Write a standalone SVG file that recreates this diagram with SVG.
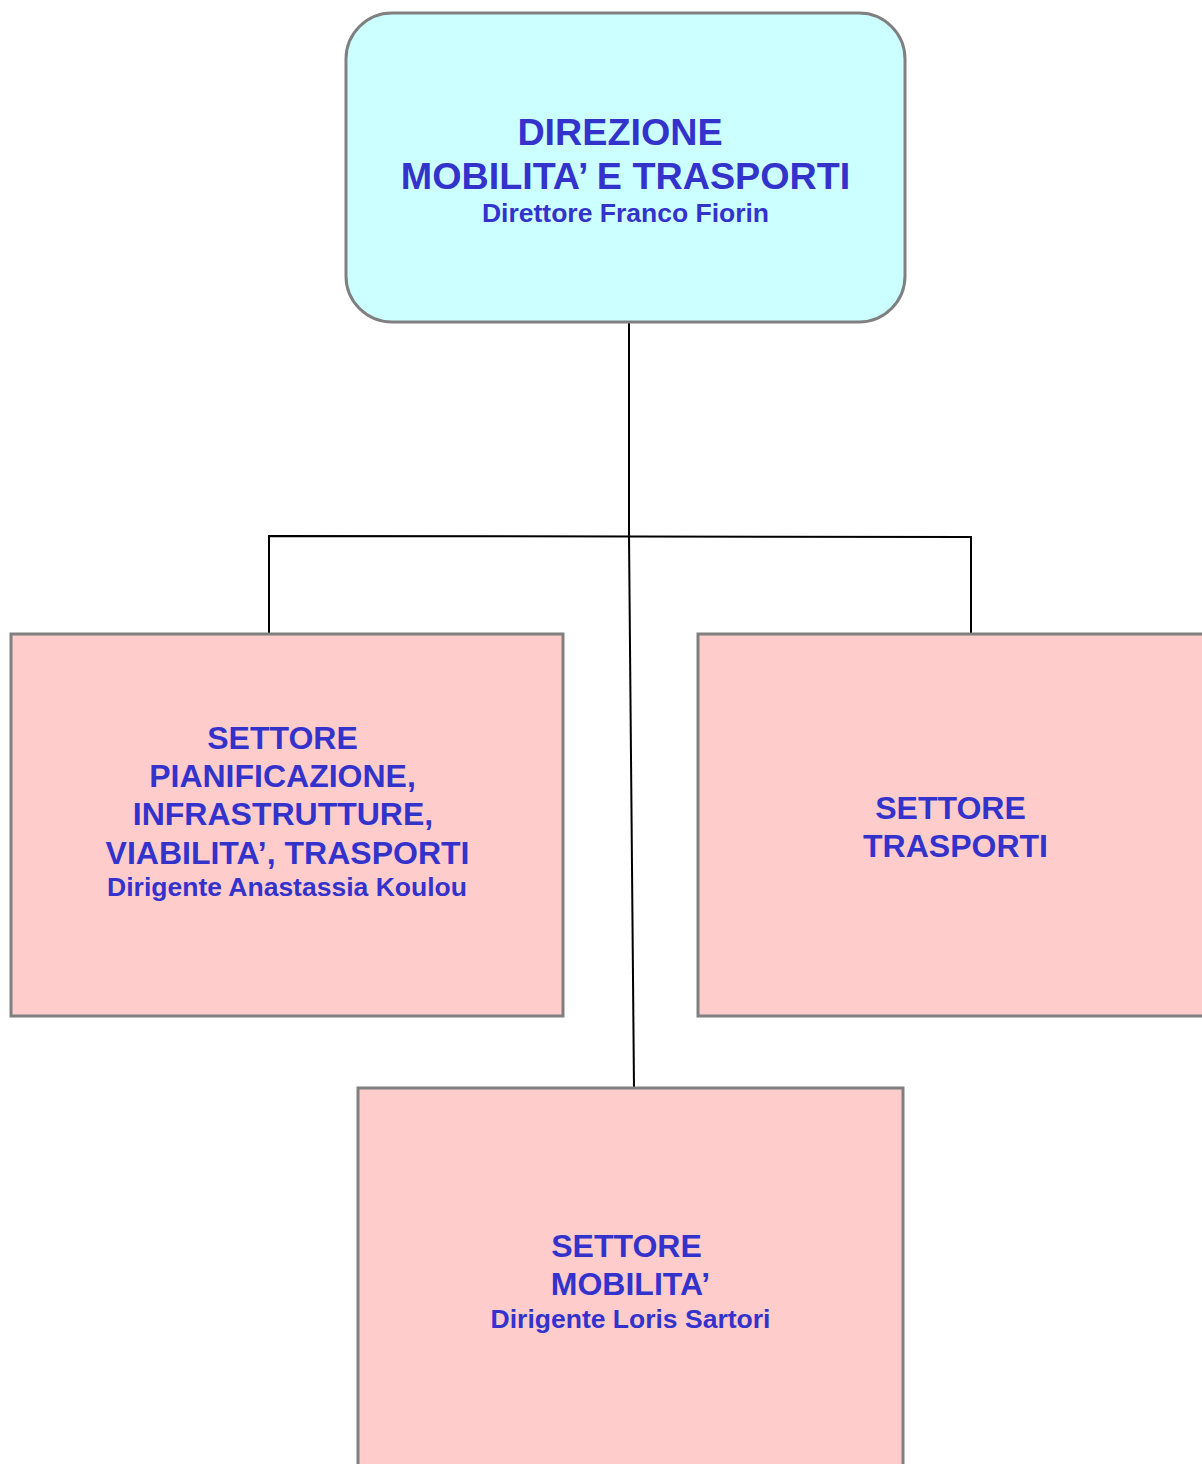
<svg xmlns="http://www.w3.org/2000/svg" width="1202" height="1464" viewBox="0 0 1202 1464">
<style>
.box{stroke:#808080;stroke-width:3}
.dir{fill:#CCFFFF}
.set{fill:#FFCCCC}
.t{font-family:"Liberation Sans",Arial,sans-serif;font-weight:bold;fill:#3333CC;text-anchor:middle}
.big{font-size:37.7px}
.mid{font-size:32px}
.small{font-size:26.5px}
.conn{stroke:#000;stroke-width:2;fill:none}
</style>
<rect width="1202" height="1464" fill="#fff"/>
<g id="connectors">
<line class="conn" x1="629" y1="322" x2="629" y2="536"/>
<polyline class="conn" points="269,634 269,536 971,537 971,634"/>
<line class="conn" x1="629" y1="536" x2="634" y2="1088"/>
</g>
<g id="direzione">
<rect class="box dir" x="346" y="13" width="559" height="309" rx="46" ry="46"/>
<text class="t big" x="620" y="145">DIREZIONE</text>
<text class="t big" x="625.5" y="189">MOBILITA’ E TRASPORTI</text>
<text class="t small" x="625.5" y="222">Direttore Franco Fiorin</text>
</g>
<g id="settore-pianificazione">
<rect class="box set" x="11" y="634" width="552" height="382"/>
<text class="t mid" x="282.5" y="749">SETTORE</text>
<text class="t mid" x="282.5" y="787">PIANIFICAZIONE,</text>
<text class="t mid" x="283" y="825">INFRASTRUTTURE,</text>
<text class="t mid" x="287.5" y="864">VIABILITA’, TRASPORTI</text>
<text class="t small" x="287" y="896">Dirigente Anastassia Koulou</text>
</g>
<g id="settore-trasporti">
<rect class="box set" x="698" y="634" width="520" height="382"/>
<text class="t mid" x="950.5" y="819">SETTORE</text>
<text class="t mid" x="955.5" y="857">TRASPORTI</text>
</g>
<g id="settore-mobilita">
<rect class="box set" x="358" y="1088" width="545" height="390"/>
<text class="t mid" x="626.5" y="1257">SETTORE</text>
<text class="t mid" x="630.5" y="1295">MOBILITA’</text>
<text class="t small" x="630.5" y="1328">Dirigente Loris Sartori</text>
</g>
</svg>
